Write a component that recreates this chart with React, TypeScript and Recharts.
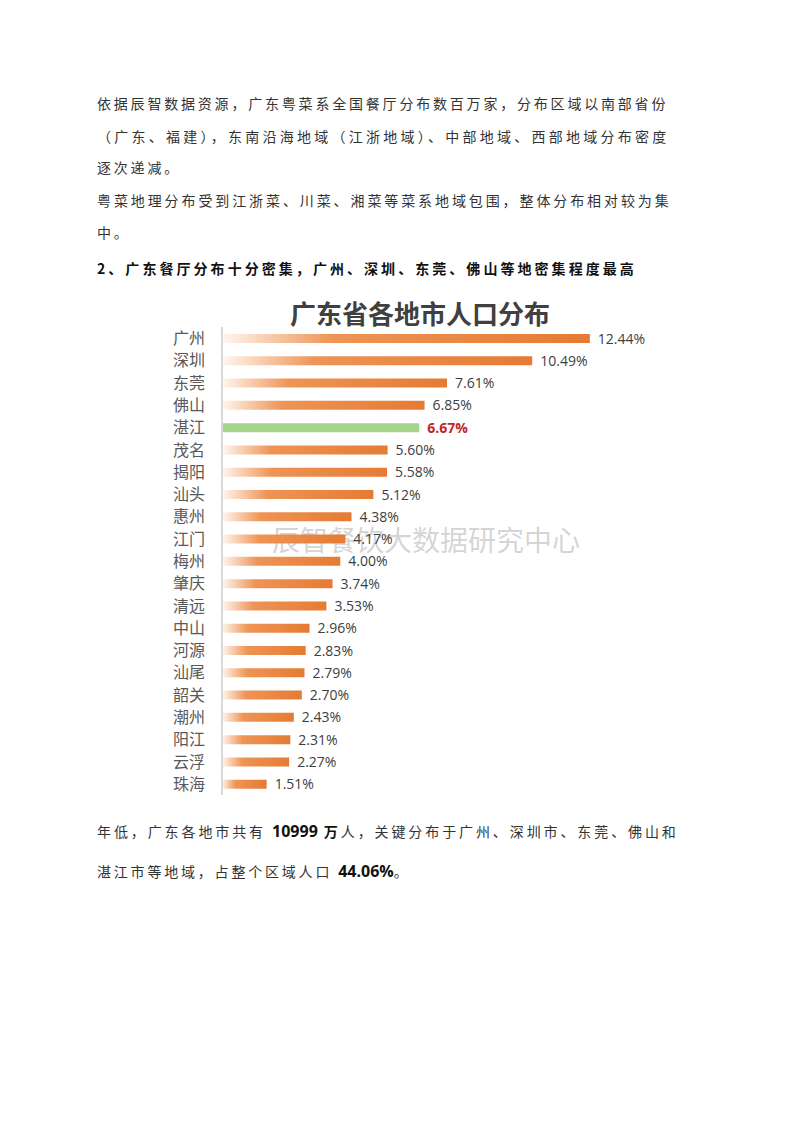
import React from 'react';
import { BarChart, Bar, XAxis, YAxis, Cell, LabelList } from 'recharts';

const cities = ['广州', '深圳', '东莞', '佛山', '湛江', '茂名', '揭阳', '汕头', '惠州', '江门', '梅州', '肇庆', '清远', '中山', '河源', '汕尾', '韶关', '潮州', '阳江', '云浮', '珠海'];
const shares = [12.44, 10.49, 7.61, 6.85, 6.67, 5.6, 5.58, 5.12, 4.38, 4.17, 4.0, 3.74, 3.53, 2.96, 2.83, 2.79, 2.7, 2.43, 2.31, 2.27, 1.51];
const highlight = '湛江';

const data = cities.map((city, i) => ({ city, value: shares[i] }));

const cjk = '"Noto Sans CJK SC", "Noto Sans", sans-serif';

const bodyLines = [
  { y: 103, text: '依据辰智数据资源，广东粤菜系全国餐厅分布数百万家，分布区域以南部省份', ls: 2.8 },
  { y: 136, text: '（广东、福建），东南沿海地域（江浙地域）、中部地域、西部地域分布密度', ls: 3.25 },
  { y: 167, text: '逐次递减。', ls: 2.8 },
  { y: 200, text: '粤菜地理分布受到江浙菜、川菜、湘菜等菜系地域包围，整体分布相对较为集', ls: 2.9 },
  { y: 232, text: '中。', ls: 2.8 },
];

const CityTick = (props: any) => {
  const { x, y, payload } = props;
  return (
    <text x={x} y={y} dy={6} textAnchor="end" fontSize={16} fill="#595959" fontFamily={cjk}>
      {payload.value}
    </text>
  );
};

const ValueLabel = (props: any) => {
  const { x, y, width, height, value, index } = props;
  const hot = cities[index] === highlight;
  return (
    <text
      x={x + width + 8}
      y={y + height / 2}
      dy={5}
      fontSize={14}
      fontWeight={hot ? 'bold' : 'normal'}
      fill={hot ? '#C0262D' : '#404040'}
      fontFamily='"Open Sans", "Noto Sans", sans-serif'
    >
      {value.toFixed(2)}%
    </text>
  );
};

const line = (y: number, extra: React.CSSProperties = {}) => ({
  position: 'absolute' as const,
  left: 97,
  top: y - 10,
  lineHeight: '20px',
  fontSize: 14,
  letterSpacing: '2.8px',
  color: '#333',
  fontFamily: cjk,
  whiteSpace: 'nowrap' as const,
  ...extra,
});

const boldNum: React.CSSProperties = { fontFamily: '"Open Sans", sans-serif', fontSize: 16, letterSpacing: 0, color: '#111' };

export default function App() {
  return (
    <div style={{ position: 'absolute', left: 0, top: 0, width: 800, height: 1132, background: '#fff' }}>
      {bodyLines.map((l) => (
        <div key={l.y} style={line(l.y, { letterSpacing: `${l.ls}px` })}>{l.text}</div>
      ))}
      <div style={line(268, { fontWeight: 'bold', color: '#111', letterSpacing: '3.05px' })}>
        2、广东餐厅分布十分密集，广州、深圳、东莞、佛山等地密集程度最高
      </div>

      <div style={{ position: 'absolute', left: 150, top: 290, width: 540, height: 515 }}>
        <div
          style={{
            position: 'absolute',
            left: 0,
            top: 8,
            width: 540,
            textAlign: 'center',
            fontSize: 26,
            fontWeight: 'bold',
            color: '#404040',
            fontFamily: cjk,
            lineHeight: '30px',
          }}
        >
          广东省各地市人口分布
        </div>
        <div
          style={{
            position: 'absolute',
            left: 122,
            top: 232,
            fontSize: 28,
            color: 'rgba(160,160,160,0.45)',
            fontFamily: cjk,
            whiteSpace: 'nowrap',
            lineHeight: '34px',
          }}
        >
          辰智餐饮大数据研究中心
        </div>
        <BarChart
          width={540}
          height={510}
          data={data}
          layout="vertical"
          margin={{ top: 37, right: 54, bottom: 5, left: 0 }}
          barCategoryGap={0}
        >
          <defs>
            <linearGradient id="orangeFade" x1="0" y1="0" x2="1" y2="0">
              <stop offset="0%" stopColor="#FFF6EF" />
              <stop offset="30%" stopColor="#EE9455" />
              <stop offset="100%" stopColor="#E57B33" />
            </linearGradient>
          </defs>
          <XAxis type="number" domain={[0, 14]} hide />
          <YAxis
            type="category"
            dataKey="city"
            width={72}
            tick={<CityTick />}
            tickLine={false}
            tickSize={0}
            tickMargin={17}
            axisLine={{ stroke: '#D9D9D9', strokeWidth: 2 }}
            interval={0}
          />
          <Bar dataKey="value" barSize={9} isAnimationActive={false}>
            {data.map((d) => (
              <Cell key={d.city} fill={d.city === highlight ? '#A3D68A' : 'url(#orangeFade)'} />
            ))}
            <LabelList dataKey="value" content={<ValueLabel />} />
          </Bar>
        </BarChart>
      </div>

      <div style={line(831, { letterSpacing: '2.9px' })}>
        年低，广东各地市共有 <b style={boldNum}>10999</b> <b style={{ color: '#111' }}>万</b>人，关键分布于广州、深圳市、东莞、佛山和
      </div>
      <div style={line(871)}>
        湛江市等地域，占整个区域人口 <b style={boldNum}>44.06%</b>。
      </div>
    </div>
  );
}
